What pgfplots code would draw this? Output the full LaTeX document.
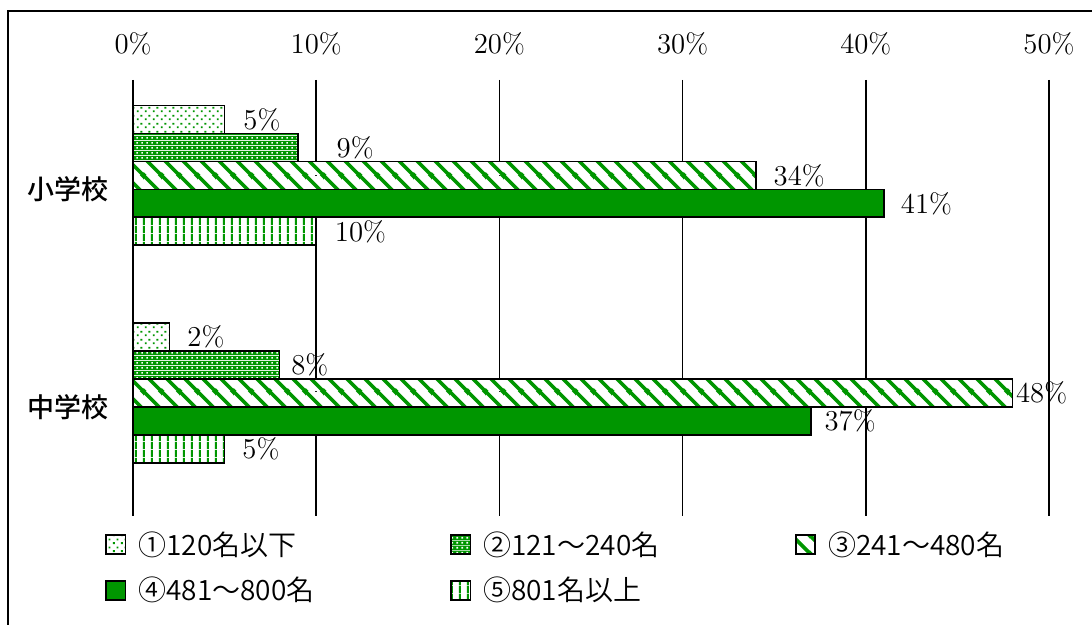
\documentclass[border=0pt]{standalone}
\usepackage{fontspec}
\usepackage{pgfplots}
\pgfplotsset{compat=1.18}
\usepackage{pgfplotstable}
\usetikzlibrary{patterns}
\newfontfamily\jp{Noto Sans CJK JP DemiLight}
\newfontfamily\jpm{Noto Sans CJK JP Medium}
\definecolor{pgreen}{RGB}{0,150,0}

\pgfdeclarepatterninherentlycolored{dotsparse}{\pgfpointorigin}{\pgfpoint{4pt}{4pt}}{\pgfpoint{4pt}{4pt}}{%
  \pgfsetfillcolor{white}\pgfpathrectangle{\pgfpointorigin}{\pgfpoint{4pt}{4pt}}\pgfusepath{fill}%
  \pgfsetfillcolor{pgreen}%
  \pgfpathrectangle{\pgfpoint{0.5pt}{0.5pt}}{\pgfpoint{1pt}{1pt}}%
  \pgfpathrectangle{\pgfpoint{2.5pt}{2.5pt}}{\pgfpoint{1pt}{1pt}}%
  \pgfusepath{fill}}
\pgfdeclarepatterninherentlycolored{dotdense}{\pgfpointorigin}{\pgfpoint{2.5pt}{2.5pt}}{\pgfpoint{2.5pt}{2.5pt}}{%
  \pgfsetfillcolor{pgreen}\pgfpathrectangle{\pgfpointorigin}{\pgfpoint{2.5pt}{2.5pt}}\pgfusepath{fill}%
  \pgfsetfillcolor{white}\pgfpathrectangle{\pgfpoint{0.75pt}{0.75pt}}{\pgfpoint{1pt}{1pt}}\pgfusepath{fill}}
\pgfdeclarepatterninherentlycolored{diagstripe}{\pgfpointorigin}{\pgfpoint{9pt}{9pt}}{\pgfpoint{9pt}{9pt}}{%
  \pgfsetfillcolor{white}\pgfpathrectangle{\pgfpointorigin}{\pgfpoint{9pt}{9pt}}\pgfusepath{fill}%
  \pgfsetstrokecolor{pgreen}\pgfsetlinewidth{1.9pt}%
  \pgfpathmoveto{\pgfpoint{-1pt}{10pt}}\pgfpathlineto{\pgfpoint{10pt}{-1pt}}%
  \pgfpathmoveto{\pgfpoint{-1pt}{1pt}}\pgfpathlineto{\pgfpoint{1pt}{-1pt}}%
  \pgfpathmoveto{\pgfpoint{8pt}{10pt}}\pgfpathlineto{\pgfpoint{10pt}{8pt}}%
  \pgfusepath{stroke}}
\pgfdeclarepatterninherentlycolored{vlines}{\pgfpointorigin}{\pgfpoint{4.15pt}{4pt}}{\pgfpoint{4.15pt}{4pt}}{%
  \pgfsetfillcolor{white}\pgfpathrectangle{\pgfpointorigin}{\pgfpoint{4.15pt}{4pt}}\pgfusepath{fill}%
  \pgfsetfillcolor{pgreen}\pgfpathrectangle{\pgfpoint{1.5pt}{0pt}}{\pgfpoint{1.1pt}{4pt}}\pgfusepath{fill}}

\pgfplotstableread{
x y dx
5 0 9
2 1 8.5
}\sA
\pgfplotstableread{
x y dx
9 0 19
8 1 5.5
}\sB
\pgfplotstableread{
x y dx
34 0 8.5
48 1 1.5
}\sC
\pgfplotstableread{
x y dx
41 0 8
37 1 6.5
}\sD
\pgfplotstableread{
x y dx
10 0 9
5 1 8.5
}\sE

\begin{document}
\begin{tikzpicture}
\useasboundingbox (0,0) rectangle (546pt,312.5pt);
\draw[line width=0.8pt] (4pt,-20pt) rectangle (600pt,307pt);
\begin{axis}[
  at={(66.5pt,54.5pt)}, anchor=south west,
  scale only axis, width=458pt, height=218pt,
  xbar, bar width=0.1286,
  xmin=0, xmax=50, xtick={0,10,20,30,40,50},
  xticklabel={\pgfmathprintnumber{\tick}\%},
  xticklabel pos=upper,
  xticklabel style={yshift=9pt},
  ymin=-0.4378, ymax=1.565, y dir=reverse,
  ytick={0,1}, yticklabels={小学校,中学校},
  yticklabel style={font=\jpm\fontsize{13.5}{16}\selectfont, inner xsep=0pt, xshift=-12pt, yshift=-7pt},
  ticklabel style={font=\fontsize{14}{16}\selectfont},
  axis line style={draw=none},
  major tick length=0pt,
  xmajorgrids, grid style={black, line width=0.8pt},
  clip=false,
  point meta=x,
  nodes near coords={\pgfmathprintnumber{\pgfplotspointmeta}\%},
  every node near coord/.append style={font=\fontsize{14}{16}\selectfont, anchor=west, inner sep=0pt, xshift=\dx pt},
  visualization depends on={\thisrow{dx} \as \dx},
  legend image code/.code={\draw[#1, line width=0.9pt] (0pt,-4.8pt) rectangle (9.6pt,4.8pt); \path[draw=none, fill=none, pattern=none] (0pt,0pt) -- (14pt,0pt);},
  legend style={draw=none, fill=none, at={(axis description cs:0,0)}, anchor=north west, xshift=-17pt, yshift=-3.5pt,
    legend columns=3, font=\jp\fontsize{14}{16}\selectfont, row sep=5.5pt, cells={anchor=west}},
]
\addplot[draw=black, line width=0.8pt, pattern=dotsparse, bar shift=-0.2572] table[x=x,y=y]{\sA};
\addplot[draw=black, line width=0.8pt, pattern=dotdense, bar shift=-0.1286] table[x=x,y=y]{\sB};
\addplot[draw=black, line width=0.8pt, pattern=diagstripe, bar shift=0] table[x=x,y=y]{\sC};
\addplot[draw=black, line width=0.8pt, fill=pgreen, bar shift=0.1286] table[x=x,y=y]{\sD};
\addplot[draw=black, line width=0.8pt, pattern=vlines, bar shift=0.2572] table[x=x,y=y]{\sE};
\legend{\makebox[154pt][l]{①120名以下},\makebox[154pt][l]{②121～240名},\makebox[154pt][l]{③241～480名},\makebox[154pt][l]{④481～800名},\makebox[154pt][l]{⑤801名以上}}
\end{axis}
\end{tikzpicture}
\end{document}
